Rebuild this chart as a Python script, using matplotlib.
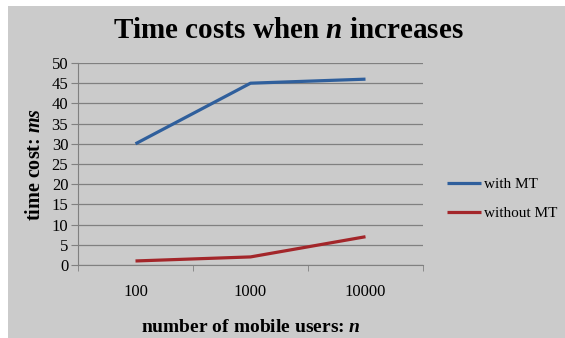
import matplotlib.pyplot as plt
from matplotlib.patches import Rectangle

# data
categories = ['100', '1000', '10000']
with_mt = [30, 45, 46]
without_mt = [1, 2, 7]
y_ticks = list(range(0, 55, 5))

plt.rcParams['font.family'] = ['Liberation Serif', 'DejaVu Serif']
plt.rcParams['mathtext.fontset'] = 'custom'
plt.rcParams['mathtext.bfit'] = 'Liberation Serif:italic:bold'

fig = plt.figure(figsize=(5.65, 3.38), dpi=100)
fig.patch.set_facecolor('white')
# gray panel with a thin white margin at top/left
fig.patches.append(Rectangle((8 / 565, 0), 1, 1 - 6 / 338, transform=fig.transFigure,
                             facecolor='#cbcbcb', edgecolor='none', zorder=-10))

ax = fig.add_axes([78 / 565, 73 / 338, 345 / 565, 202 / 338])
ax.set_facecolor('none')

x = list(range(len(categories)))
ax.plot(x, with_mt, color='#2f5f9c', lw=2.3, label='with MT', solid_capstyle='butt')
ax.plot(x, without_mt, color='#a3262a', lw=2.3, label='without MT', solid_capstyle='butt')

ax.set_xlim(-0.5, len(categories) - 0.5)
ax.set_ylim(0, 50)
ax.set_yticks(y_ticks)
ax.set_xticks(x)
ax.set_xticklabels(categories, fontsize=12)
ax.set_xticks([i - 0.5 for i in range(len(categories) + 1)], minor=True)
ax.tick_params(axis='x', which='major', length=0, pad=14)
ax.tick_params(axis='x', which='minor', length=4, color='#808080', direction='out')
ax.tick_params(axis='y', length=5, color='#808080', labelsize=12, pad=2)

ax.yaxis.grid(True, color='#808080', lw=0.9)
ax.set_axisbelow(True)
for s in ['top', 'right']:
    ax.spines[s].set_visible(False)
ax.spines['left'].set_color('#808080')
ax.spines['bottom'].set_color('#808080')

ax.set_ylabel('time cost: $\\mathbfit{ms}$', fontsize=14.5, fontweight='bold', labelpad=5)
ax.set_xlabel('number of mobile users: $\\mathbfit{n}$', fontsize=14, fontweight='bold', labelpad=13)

fig.text(0.51, 0.91, 'Time costs when $\\mathbfit{n}$ increases', ha='center', va='center',
         fontsize=21, fontweight='bold')

ax.legend(loc='center left', bbox_to_anchor=(1.07, 0.327), frameon=False, fontsize=11,
          handlelength=2.2, handletextpad=0.2, labelspacing=1.0,
          borderpad=0, borderaxespad=0)

fig.savefig('out.png', dpi=100)
